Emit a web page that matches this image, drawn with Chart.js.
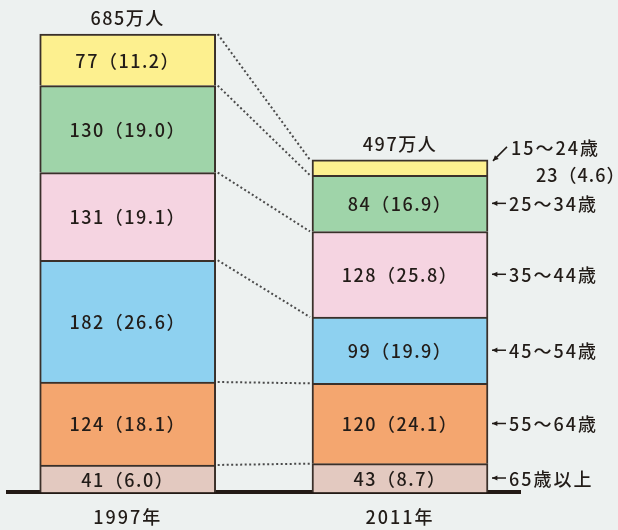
<!DOCTYPE html>
<html><head><meta charset="utf-8">
<script src="https://cdn.jsdelivr.net/npm/chart.js@4"></script>
<style>
html,body{margin:0;padding:0;background:#edf1f0;}
#wrap{width:618px;height:530px;}
</style>
</head><body><div id="wrap"><canvas id="c" width="618" height="530"></canvas></div>
<script>
// Workers by age group (万人) and their share of the total (%)
const years = ['1997年', '2011年'];
const totals = [685, 497];
const ageGroups = ['65歳以上', '55～64歳', '45～54歳', '35～44歳', '25～34歳', '15～24歳'];
const workers1997 = [41, 124, 182, 131, 130, 77];
const workers2011 = [43, 120, 99, 128, 84, 23];
const share1997 = [6.0, 18.1, 26.6, 19.1, 19.0, 11.2];
const share2011 = [8.7, 24.1, 19.9, 25.8, 16.9, 4.6];
const fills = ['#e3c9c0', '#f4a66f', '#8ed1f0', '#f5d4e1', '#9fd4a9', '#fdf08f'];

const FONT = '"Noto Sans CJK JP", "Noto Sans", sans-serif';
const INK = '#221c18';

const datasets = ageGroups.map((g, i) => ({
  label: g,
  data: [{x: 0, y: workers1997[i]}, {x: 1, y: workers2011[i]}],
  backgroundColor: fills[i],
  borderColor: '#3a302a',
  borderWidth: 2,
  borderSkipped: 'start',
  barThickness: 176,
  stack: 'all'
}));

function label(v, p) { return v + '（' + p.toFixed(1) + '）'; }

const annotate = {
  id: 'annotate',
  beforeDraw(chart) {
    // slightly spaced lettering for the year labels
    chart.ctx.letterSpacing = '2px';
  },
  afterDatasetsDraw(chart) {
    const ctx = chart.ctx;
    const metas = ageGroups.map((_, i) => chart.getDatasetMeta(i));
    ctx.save();
    ctx.textBaseline = 'middle';
    ctx.fillStyle = INK;
    ctx.font = '500 18px ' + FONT;
    ctx.letterSpacing = '1.5px';

    // dotted connectors between matching segment tops
    ctx.strokeStyle = '#4a4a4a';
    ctx.lineWidth = 2;
    ctx.setLineDash([2, 2.5]);
    metas.forEach(m => {
      const a = m.data[0], b = m.data[1];
      ctx.beginPath();
      ctx.moveTo(a.x + a.width / 2 + 2, a.y);
      ctx.lineTo(b.x - b.width / 2 - 2, b.y);
      ctx.stroke();
    });
    ctx.setLineDash([]);

    // values inside segments
    ctx.textAlign = 'center';
    metas.forEach((m, i) => {
      const a = m.data[0], b = m.data[1];
      ctx.fillText(label(workers1997[i], share1997[i]), a.x, (a.y + a.base) / 2 + 1);
      if (i < ageGroups.length - 1) {
        ctx.fillText(label(workers2011[i], share2011[i]), b.x, (b.y + b.base) / 2 + 1);
      }
    });

    // totals above bars
    const top = metas[metas.length - 1];
    [0, 1].forEach(j => {
      const el = top.data[j];
      ctx.fillText(totals[j] + '万人', el.x, el.y - 16);
    });

    // age labels with arrows on the right of the 2011 bar
    ctx.textAlign = 'left';
    ctx.letterSpacing = '2px';
    ctx.strokeStyle = INK;
    ctx.lineWidth = 1.5;
    const arrow = (x0, y0, x1, y1) => {
      ctx.beginPath();
      ctx.moveTo(x0, y0); ctx.lineTo(x1, y1); ctx.stroke();
      const ang = Math.atan2(y1 - y0, x1 - x0);
      ctx.beginPath();
      ctx.moveTo(x1, y1);
      ctx.lineTo(x1 - 6 * Math.cos(ang - 0.45), y1 - 6 * Math.sin(ang - 0.45));
      ctx.lineTo(x1 - 6 * Math.cos(ang + 0.45), y1 - 6 * Math.sin(ang + 0.45));
      ctx.closePath();
      ctx.fillStyle = INK;
      ctx.fill();
    };
    metas.forEach((m, i) => {
      const b = m.data[1];
      const right = b.x + b.width / 2;
      if (i < ageGroups.length - 1) {
        const cy = (b.y + b.base) / 2;
        arrow(right + 18, cy, right + 4, cy);
        ctx.fillText(ageGroups[i], right + 21, cy + 1);
      } else {
        arrow(right + 19, b.y - 13, right + 5, b.y + 1);
        ctx.fillText(ageGroups[i], right + 23, b.y - 12);
        ctx.letterSpacing = '1px';
        ctx.fillText(workers2011[i] + '（' + share2011[i].toFixed(1) + '）', right + 48, b.y + 15);
        ctx.letterSpacing = '2px';
      }
    });
    ctx.restore();
  }
};

new Chart(document.getElementById('c'), {
  type: 'bar',
  data: { datasets },
  options: {
    responsive: false,
    animation: false,
    layout: { padding: { left: 8, right: 98, top: 10, bottom: -12 } },
    plugins: { legend: { display: false }, tooltip: { enabled: false } },
    scales: {
      x: {
        type: 'linear',
        stacked: true,
        offset: false,
        min: -0.4396,
        max: 1.4407,
        grid: { display: false, drawTicks: false, offset: false },
        border: { display: true, color: '#231a15', width: 4 },
        afterBuildTicks: s => { s.ticks = [{value: 0}, {value: 1}]; },
        ticks: {
          padding: 14,
          color: INK,
          font: { family: FONT, size: 18, weight: '500' },
          callback: v => years[v]
        }
      },
      y: {
        stacked: true,
        display: false,
        min: 0,
        max: 721
      }
    }
  },
  plugins: [annotate]
});
</script>
</body></html>
